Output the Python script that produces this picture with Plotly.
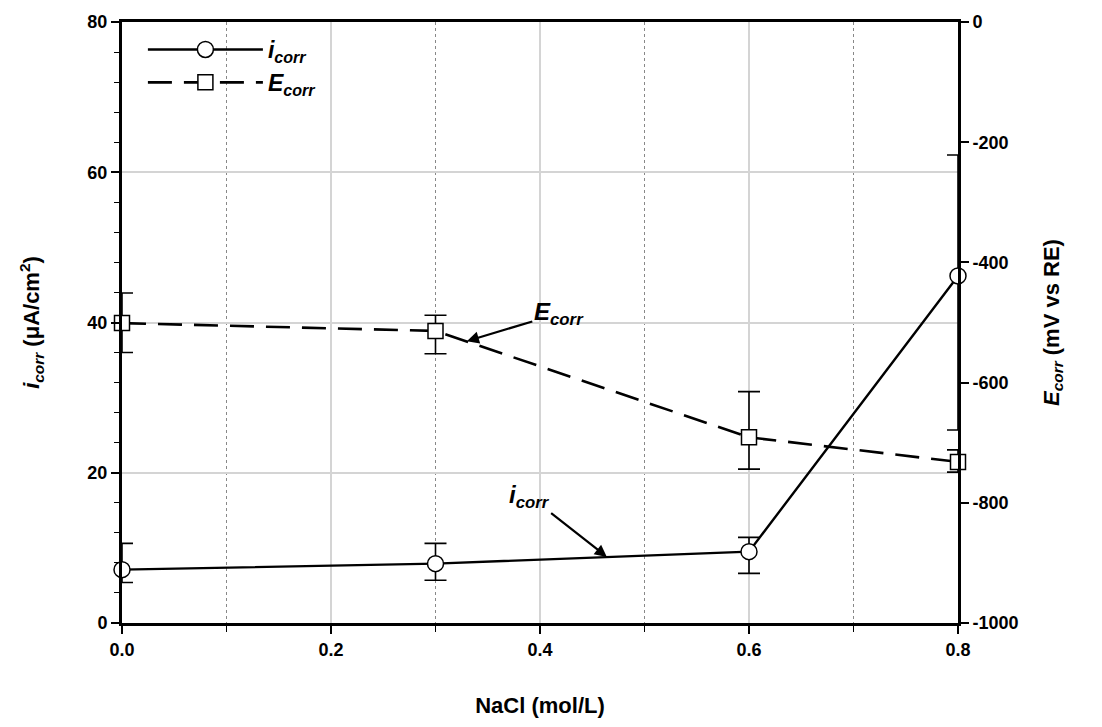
import plotly.graph_objects as go

nacl = [0.0, 0.3, 0.6, 0.8]
icorr = [7.1, 7.9, 9.5, 46.2]
icorr_err_plus = [3.5, 2.7, 1.9, 16.1]
icorr_err_minus = [1.7, 2.2, 2.9, 20.5]
ecorr = [-501, -514, -691, -732]
ecorr_err_plus = [50, 26, 76, 20]
ecorr_err_minus = [49, 38, 53, 17]
e_tickvals = [0, -200, -400, -600, -800, -1000]
e_ticktext = ["0", "-200", "-400", "-600", "-800", "-1000"]

FONT = "Liberation Sans"

fig = go.Figure()

fig.add_trace(go.Scatter(
    x=nacl, y=icorr, name="<i>i<sub>corr</sub></i>",
    mode="lines+markers",
    line=dict(color="black", width=2.4),
    marker=dict(symbol="circle", size=16, color="white", line=dict(color="black", width=1.5)),
    error_y=dict(type="data", symmetric=False, array=icorr_err_plus, arrayminus=icorr_err_minus,
                 color="black", thickness=1.6, width=11),
    yaxis="y", cliponaxis=False,
))

fig.add_trace(go.Scatter(
    x=nacl, y=ecorr, name="<i>E<sub>corr</sub></i>",
    mode="lines+markers",
    line=dict(color="black", width=2.6, dash="24px,12px"),
    marker=dict(symbol="square", size=15, color="white", line=dict(color="black", width=1.5)),
    error_y=dict(type="data", symmetric=False, array=ecorr_err_plus, arrayminus=ecorr_err_minus,
                 color="black", thickness=1.6, width=11),
    yaxis="y2", cliponaxis=False,
))

fig.add_annotation(
    x=0.33, y=-531, xref="x", yref="y2",
    ax=0.418, ay=-485, axref="x", ayref="y2",
    text="<b><i>E<sub>corr</sub></i></b>", showarrow=True,
    arrowhead=2, arrowsize=1.1, arrowwidth=2.2, arrowcolor="black",
    font=dict(family=FONT, size=24, color="black"),
)
fig.add_annotation(
    x=0.464, y=8.8, xref="x", yref="y",
    ax=0.39, ay=16.9, axref="x", ayref="y",
    text="<b><i>i<sub>corr</sub></i></b>", showarrow=True,
    arrowhead=2, arrowsize=1.1, arrowwidth=2.2, arrowcolor="black",
    font=dict(family=FONT, size=24, color="black"),
)

tickfont = dict(family=FONT, size=18, color="black", weight=700)
titlefont = dict(family=FONT, size=22, color="black", weight=700)

fig.update_layout(
    width=1102, height=727,
    margin=dict(l=122, r=144, t=18, b=104),
    paper_bgcolor="white", plot_bgcolor="white",
    showlegend=True,
    legend=dict(x=0.025, y=0.99, xanchor="left", yanchor="top",
                font=dict(family=FONT, size=23, color="black", weight=700),
                itemwidth=115, bgcolor="rgba(0,0,0,0)", tracegroupgap=0),
    xaxis=dict(
        range=[0, 0.8], dtick=0.2, tick0=0, tickformat=".1f",
        showline=True, linecolor="black", linewidth=3, mirror=True,
        ticks="outside", ticklen=8, tickwidth=1.5, tickcolor="black",
        showgrid=True, gridcolor="#d4d4d4", gridwidth=1.5,
        zeroline=False,
        tickfont=tickfont,
        title=dict(text="NaCl (mol/L)", font=titlefont, standoff=40),
        minor=dict(dtick=0.1, tick0=0, ticks="outside", ticklen=6, tickwidth=1.2, tickcolor="black",
                   showgrid=True, griddash="dot", gridcolor="#888888", gridwidth=1),
    ),
    yaxis=dict(
        range=[0, 80], dtick=20, tick0=0,
        showline=True, linecolor="black", linewidth=3,
        ticks="outside", ticklen=8, tickwidth=1.5, tickcolor="black",
        showgrid=True, gridcolor="#d4d4d4", gridwidth=1.5,
        zeroline=False,
        tickfont=tickfont,
        title=dict(text="<i>i<sub>corr</sub></i> (μA/cm<sup>2</sup>)", font=titlefont, standoff=42),
        minor=dict(dtick=4, tick0=0, ticks="outside", ticklen=5, tickwidth=1.2, tickcolor="black",
                   showgrid=False),
    ),
    yaxis2=dict(
        range=[-1000, 0], tickvals=e_tickvals, ticktext=e_ticktext,
        overlaying="y", side="right",
        showline=True, linecolor="black", linewidth=3,
        ticks="outside", ticklen=8, tickwidth=1.5, tickcolor="black",
        showgrid=False, zeroline=False,
        tickfont=tickfont,
        title=dict(text="<i>E<sub>corr</sub></i> (mV vs RE)", font=titlefont, standoff=26),
    ),
)

fig.write_html("out.html")
